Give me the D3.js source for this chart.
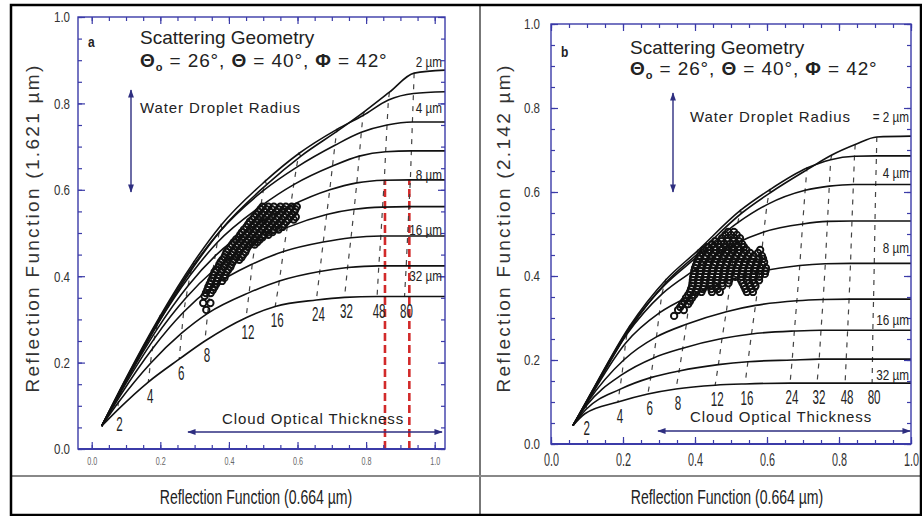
<!DOCTYPE html>
<html>
<head>
<meta charset="utf-8">
<script src="https://cdn.jsdelivr.net/npm/d3@7"></script>
<style>
  body { margin: 0; background: #fff; }
  svg { display: block; font-family: 'Liberation Sans', Arial, sans-serif; }
</style>
</head>
<body>
<svg id="figure" width="922" height="516"></svg>
<script>
var tauValues = [2, 4, 6, 8, 12, 16, 24, 32, 48, 80];
var radii = [2, 3, 4, 6, 8, 12, 16, 24, 32];
var labelledRadii = [2, 4, 8, 16, 32];
var axisTicks = [0, 0.2, 0.4, 0.6, 0.8, 1.0];

// panel a : R(0.664 um) against R(1.621 um)
var originA = [0.029, 0.053];
var plateauA = [0.877, 0.827, 0.757, 0.690, 0.623, 0.561, 0.493, 0.424, 0.353];
var tauXA = [
  [0.095, 0.200, 0.300, 0.380, 0.510, 0.610, 0.720, 0.795, 0.868, 0.940],
  [0.094, 0.198, 0.297, 0.377, 0.506, 0.604, 0.715, 0.791, 0.865, 0.938],
  [0.092, 0.195, 0.292, 0.372, 0.500, 0.597, 0.709, 0.786, 0.861, 0.935],
  [0.090, 0.191, 0.287, 0.366, 0.493, 0.589, 0.702, 0.780, 0.857, 0.932],
  [0.088, 0.187, 0.281, 0.360, 0.485, 0.580, 0.694, 0.773, 0.853, 0.929],
  [0.085, 0.182, 0.275, 0.353, 0.477, 0.570, 0.685, 0.765, 0.848, 0.925],
  [0.082, 0.177, 0.268, 0.345, 0.468, 0.559, 0.675, 0.756, 0.843, 0.921],
  [0.078, 0.171, 0.262, 0.338, 0.459, 0.547, 0.665, 0.746, 0.837, 0.917],
  [0.075, 0.165, 0.255, 0.330, 0.450, 0.535, 0.655, 0.737, 0.832, 0.912]
];
var tauYA = [
  [0.150, 0.300, 0.425, 0.510, 0.612, 0.678, 0.738, 0.781, 0.826, 0.870],
  [0.155, 0.306, 0.432, 0.518, 0.620, 0.684, 0.740, 0.772, 0.808, 0.823],
  [0.150, 0.298, 0.420, 0.502, 0.598, 0.652, 0.703, 0.733, 0.750, 0.757],
  [0.145, 0.288, 0.402, 0.478, 0.562, 0.612, 0.655, 0.678, 0.688, 0.690],
  [0.140, 0.273, 0.378, 0.447, 0.522, 0.563, 0.600, 0.616, 0.622, 0.623],
  [0.132, 0.255, 0.350, 0.412, 0.478, 0.513, 0.543, 0.555, 0.560, 0.561],
  [0.122, 0.232, 0.317, 0.372, 0.428, 0.457, 0.479, 0.489, 0.493, 0.493],
  [0.108, 0.198, 0.268, 0.314, 0.362, 0.389, 0.411, 0.420, 0.424, 0.424],
  [0.090, 0.155, 0.208, 0.250, 0.304, 0.330, 0.345, 0.351, 0.353, 0.353]
];
var cloudA = [
  [0.561, [0.498, 0.515, 0.531, 0.550, 0.566, 0.583, 0.598]],
  [0.555, [0.492, 0.509, 0.525, 0.544, 0.560, 0.578, 0.594]],
  [0.549, [0.486, 0.503, 0.520, 0.538, 0.554, 0.573, 0.591]],
  [0.543, [0.480, 0.497, 0.514, 0.531, 0.549, 0.566, 0.585]],
  [0.537, [0.474, 0.490, 0.509, 0.525, 0.544, 0.560, 0.579, 0.595]],
  [0.531, [0.468, 0.485, 0.503, 0.520, 0.538, 0.555, 0.573, 0.589]],
  [0.526, [0.461, 0.480, 0.496, 0.515, 0.531, 0.550, 0.567]],
  [0.520, [0.456, 0.473, 0.491, 0.508, 0.526, 0.543, 0.561]],
  [0.514, [0.451, 0.466, 0.486, 0.501, 0.521, 0.536, 0.556]],
  [0.508, [0.444, 0.462, 0.479, 0.497, 0.514, 0.531, 0.545]],
  [0.502, [0.438, 0.457, 0.472, 0.492, 0.507, 0.527]],
  [0.496, [0.433, 0.450, 0.467, 0.485, 0.502, 0.515]],
  [0.490, [0.428, 0.443, 0.463, 0.478, 0.498]],
  [0.485, [0.421, 0.438, 0.456, 0.473, 0.490]],
  [0.479, [0.414, 0.433, 0.449, 0.468, 0.483]],
  [0.473, [0.409, 0.426, 0.444, 0.461, 0.475]],
  [0.468, [0.404, 0.420, 0.439, 0.455]],
  [0.462, [0.398, 0.416, 0.433, 0.451]],
  [0.456, [0.393, 0.413, 0.428, 0.448]],
  [0.450, [0.390, 0.407, 0.425, 0.442]],
  [0.444, [0.387, 0.402, 0.422, 0.437]],
  [0.438, [0.381, 0.398, 0.416, 0.430]],
  [0.433, [0.376, 0.395, 0.411]],
  [0.427, [0.372, 0.390, 0.407]],
  [0.421, [0.369, 0.385, 0.404]],
  [0.415, [0.363, 0.381, 0.398]],
  [0.410, [0.358, 0.378, 0.393]],
  [0.403, [0.355, 0.372, 0.390]],
  [0.396, [0.352, 0.367, 0.387]],
  [0.389, [0.348, 0.365, 0.380]],
  [0.382, [0.344, 0.363]],
  [0.375, [0.340, 0.358]],
  [0.368, [0.337, 0.353]],
  [0.361, [0.333, 0.347]],
  [0.354, [0.329]],
  [0.338, [0.325, 0.346]],
  [0.322, [0.334]]
];
var cutLinesA = [0.855, 0.926];

// panel b : R(0.664 um) against R(2.142 um)
var originB = [0.061, 0.044];
var plateauB = [0.733, 0.686, 0.618, 0.531, 0.430, 0.345, 0.271, 0.202, 0.145];
var tauXB = [
  [0.110, 0.220, 0.320, 0.410, 0.530, 0.612, 0.715, 0.780, 0.845, 0.905],
  [0.109, 0.218, 0.318, 0.407, 0.526, 0.607, 0.711, 0.777, 0.843, 0.904],
  [0.108, 0.215, 0.314, 0.402, 0.519, 0.600, 0.706, 0.773, 0.840, 0.902],
  [0.106, 0.211, 0.308, 0.395, 0.510, 0.591, 0.699, 0.768, 0.836, 0.900],
  [0.104, 0.207, 0.301, 0.386, 0.499, 0.580, 0.691, 0.762, 0.832, 0.898],
  [0.102, 0.202, 0.293, 0.376, 0.487, 0.568, 0.683, 0.756, 0.828, 0.896],
  [0.099, 0.197, 0.285, 0.366, 0.475, 0.557, 0.676, 0.750, 0.824, 0.894],
  [0.097, 0.191, 0.277, 0.356, 0.465, 0.547, 0.670, 0.745, 0.820, 0.893],
  [0.094, 0.186, 0.269, 0.347, 0.456, 0.539, 0.664, 0.739, 0.817, 0.892]
];
var tauYB = [
  [0.115, 0.275, 0.385, 0.455, 0.550, 0.600, 0.655, 0.688, 0.713, 0.731],
  [0.118, 0.280, 0.390, 0.460, 0.556, 0.605, 0.657, 0.677, 0.685, 0.686],
  [0.116, 0.273, 0.377, 0.443, 0.527, 0.570, 0.604, 0.614, 0.618, 0.618],
  [0.112, 0.262, 0.357, 0.412, 0.476, 0.505, 0.524, 0.530, 0.531, 0.531],
  [0.105, 0.240, 0.312, 0.352, 0.391, 0.410, 0.425, 0.429, 0.430, 0.430],
  [0.100, 0.200, 0.255, 0.285, 0.315, 0.330, 0.341, 0.344, 0.345, 0.345],
  [0.092, 0.165, 0.205, 0.228, 0.251, 0.262, 0.269, 0.271, 0.271, 0.271],
  [0.082, 0.130, 0.158, 0.174, 0.189, 0.196, 0.200, 0.202, 0.202, 0.202],
  [0.072, 0.100, 0.119, 0.131, 0.140, 0.143, 0.145, 0.145, 0.145, 0.145]
];
var cloudB = [
  [0.505, [0.492, 0.508]],
  [0.498, [0.484, 0.500, 0.516]],
  [0.490, [0.475, 0.491, 0.509, 0.525]],
  [0.483, [0.456, 0.473, 0.490, 0.506, 0.522]],
  [0.476, [0.447, 0.465, 0.480, 0.498, 0.513, 0.531]],
  [0.469, [0.436, 0.454, 0.470, 0.487, 0.503, 0.520, 0.536]],
  [0.462, [0.425, 0.443, 0.457, 0.476, 0.491, 0.509, 0.524, 0.543, 0.581]],
  [0.455, [0.420, 0.437, 0.453, 0.470, 0.487, 0.503, 0.520, 0.536, 0.553, 0.575]],
  [0.448, [0.414, 0.430, 0.448, 0.463, 0.482, 0.496, 0.515, 0.530, 0.548, 0.563, 0.586]],
  [0.441, [0.410, 0.427, 0.443, 0.460, 0.477, 0.493, 0.510, 0.527, 0.543, 0.560, 0.578, 0.589]],
  [0.433, [0.406, 0.423, 0.438, 0.457, 0.471, 0.490, 0.505, 0.523, 0.538, 0.557, 0.571, 0.592]],
  [0.426, [0.403, 0.420, 0.436, 0.453, 0.470, 0.486, 0.503, 0.520, 0.536, 0.553, 0.569, 0.587]],
  [0.419, [0.400, 0.416, 0.434, 0.449, 0.468, 0.482, 0.501, 0.516, 0.534, 0.549, 0.568, 0.582, 0.597]],
  [0.412, [0.398, 0.415, 0.432, 0.449, 0.465, 0.482, 0.499, 0.515, 0.532, 0.549, 0.565, 0.582, 0.596]],
  [0.405, [0.397, 0.415, 0.430, 0.448, 0.463, 0.482, 0.496, 0.515, 0.530, 0.548, 0.563, 0.581, 0.594]],
  [0.398, [0.395, 0.412, 0.429, 0.446, 0.462, 0.479, 0.496, 0.512, 0.529, 0.546, 0.562, 0.579]],
  [0.390, [0.394, 0.410, 0.429, 0.443, 0.462, 0.477, 0.495, 0.528, 0.545, 0.560, 0.578]],
  [0.383, [0.393, 0.410, 0.426, 0.443, 0.460, 0.476, 0.493, 0.532, 0.550, 0.565]],
  [0.376, [0.392, 0.409, 0.424, 0.443, 0.457, 0.476, 0.536, 0.554, 0.568]],
  [0.369, [0.389, 0.406, 0.422, 0.445, 0.463, 0.540, 0.557]],
  [0.362, [0.386, 0.404, 0.418, 0.447, 0.469, 0.544, 0.561]],
  [0.355, [0.381, 0.398]],
  [0.348, [0.375, 0.392]],
  [0.340, [0.370, 0.386]],
  [0.333, [0.364, 0.381]],
  [0.326, [0.359]],
  [0.319, [0.353, 0.369]],
  [0.305, [0.342]]
];

var Figure = (function () {
  var FRAME_BLUE = '#3b3ba8',
      ARROW_BLUE = '#2e2e80';

  var panels = [
    {
      id: 'a', left: 78, right: 445, top: 17, bottom: 449, xDomain: [-0.04, 1.03],
      origin: originA, plateau: plateauA, tauX: tauXA, tauY: tauYA, cloud: cloudA, cuts: cutLinesA,
      yTitle: 'Reflection Function (1.621 \u00b5m)', yTitleX: 32, yTitleY: 228,
      xTitleX: 256, xTickSize: 10, xTickScale: 0.72, xTickFill: '#666', xTickPad: 9,
      yTickPad: 8, radiusX: 442, radiusLift: [3, 9, 0, 1, 16], radiusPrefix: '',
      letter: [88, 47], geometry: [140, 44, 67], water: [140, 113], arrowX: 131, arrowY: [90, 192],
      cloudText: [222, 424], cloudArrow: [188, 442, 432]
    },
    {
      id: 'b', left: 551, right: 911, top: 24, bottom: 444, xDomain: [0, 1],
      origin: originB, plateau: plateauB, tauX: tauXB, tauY: tauYB, cloud: cloudB, cuts: [],
      yTitle: 'Reflection Function (2.142 \u00b5m)', yTitleX: 503, yTitleY: 228,
      xTitleX: 727, xTickSize: 19, xTickScale: 0.57, xTickFill: '#333', xTickPad: 9,
      yTickPad: 11, radiusX: 909, radiusLift: [14, 6, 10, 5, 3], radiusPrefix: '= ',
      letter: [561, 57], geometry: [630, 54, 75], water: [690, 122], arrowX: 673, arrowY: [93, 192],
      cloudText: [690, 422], cloudArrow: [658, 910, 431]
    }
  ];

  function draw(svg) {
    _defineMarkers(svg);
    panels.forEach(function (panel) {
      _drawPanel(svg, panel);
    });
    _drawBorders(svg);
  }

  function _defineMarkers(svg) {
    svg.append('defs')
       .append('marker')
       .attr('id', 'arrow-head')
       .attr('viewBox', '0 0 10 10')
       .attr('refX', 9)
       .attr('refY', 5)
       .attr('markerWidth', 6)
       .attr('markerHeight', 6)
       .attr('orient', 'auto-start-reverse')
       .append('path')
       .attr('d', 'M0,1.5 L10,5 L0,8.5 Z')
       .attr('fill', ARROW_BLUE);
  }

  function _drawBorders(svg) {
    svg.append('line')
       .attr('x1', 480).attr('x2', 480).attr('y1', 5).attr('y2', 515)
       .attr('stroke', '#777').attr('stroke-width', 2);
    svg.append('line')
       .attr('x1', 11).attr('x2', 921).attr('y1', 476).attr('y2', 476)
       .attr('stroke', '#888').attr('stroke-width', 2);
    svg.append('rect')
       .attr('x', 11).attr('y', 5).attr('width', 910).attr('height', 510)
       .attr('fill', 'none').attr('stroke', '#000').attr('stroke-width', 2.5);
  }

  function _text(g, x, y, str, opts) {
    opts = opts || {};
    return g.append('text')
            .attr('transform', 'translate(' + x + ',' + y + ') scale(' + (opts.sx || 1) + ',1)')
            .attr('text-anchor', opts.anchor || 'start')
            .attr('font-size', opts.size || 14)
            .attr('font-weight', opts.weight || 'normal')
            .attr('letter-spacing', opts.spacing || 0)
            .attr('fill', opts.fill || '#222')
            .text(str);
  }

  function _drawPanel(svg, p) {
    var x = d3.scaleLinear().domain(p.xDomain).range([p.left, p.right]),
        y = d3.scaleLinear().domain([0, 1]).range([p.bottom, p.top]),
        g = svg.append('g').attr('id', 'panel-' + p.id);

    g.append('clipPath')
     .attr('id', 'clip-' + p.id)
     .append('rect')
     .attr('x', p.left).attr('y', p.top)
     .attr('width', p.right - p.left).attr('height', p.bottom - p.top);

    var plot = g.append('g').attr('clip-path', 'url(#clip-' + p.id + ')');

    _drawCuts(plot, p, x, y);
    _drawGrid(plot, p, x, y);
    _drawCloud(plot, p, x, y);
    _drawFrame(g, p, x, y);
    _drawAnnotations(g, p, x, y);
  }

  function _drawGrid(plot, p, x, y) {
    var smooth = d3.line()
                   .x(function (d) { return x(d[0]); })
                   .y(function (d) { return y(d[1]); })
                   .curve(d3.curveMonotoneX),
        straight = d3.line()
                     .x(function (d) { return x(d[0]); })
                     .y(function (d) { return y(d[1]); });

    tauValues.forEach(function (tau, j) {
      var pts = radii.map(function (r, i) { return [p.tauX[i][j], p.tauY[i][j]]; });
      plot.append('path')
          .attr('d', straight(pts))
          .attr('fill', 'none')
          .attr('stroke', '#444')
          .attr('stroke-width', 1.2)
          .attr('stroke-dasharray', '5,6');
    });

    radii.forEach(function (r, i) {
      var pts = [p.origin]
        .concat(p.tauX[i].map(function (v, j) { return [v, p.tauY[i][j]]; }))
        .concat([[p.xDomain[1], p.plateau[i]]]);
      plot.append('path')
          .attr('class', 'radius-curve')
          .attr('d', smooth(pts))
          .attr('fill', 'none')
          .attr('stroke', '#111')
          .attr('stroke-width', 1.6);
    });
  }

  function _drawCuts(plot, p, x, y) {
    plot.selectAll('line.cut')
        .data(p.cuts)
        .enter()
        .append('line')
        .attr('class', 'cut')
        .attr('x1', function (d) { return x(d); })
        .attr('x2', function (d) { return x(d); })
        .attr('y1', y(0))
        .attr('y2', y(p.plateau[4]))
        .attr('stroke', '#d22a2a')
        .attr('stroke-width', 2.6)
        .attr('stroke-dasharray', '8,4');
  }

  function _drawCloud(plot, p, x, y) {
    var points = [];
    p.cloud.forEach(function (row) {
      row[1].forEach(function (v) { points.push([v, row[0]]); });
    });

    plot.selectAll('circle.obs')
        .data(points)
        .enter()
        .append('circle')
        .attr('class', 'obs')
        .attr('cx', function (d) { return x(d[0]); })
        .attr('cy', function (d) { return y(d[1]); })
        .attr('r', 3.2)
        .attr('fill', 'none')
        .attr('stroke', '#111')
        .attr('stroke-width', 1.9);
  }

  function _drawFrame(g, p, x, y) {
    var minor = d3.range(0, 21).map(function (i) { return i / 20; });

    function tickStyle(sel) {
      sel.select('.domain').remove();
      sel.selectAll('line').attr('stroke', FRAME_BLUE).attr('stroke-width', 1.2);
    }

    [[minor, 4], [axisTicks, 7]].forEach(function (set) {
      g.append('g').attr('transform', 'translate(0,' + p.bottom + ')')
       .call(d3.axisTop(x).tickValues(set[0]).tickSize(set[1]).tickFormat(''))
       .call(tickStyle);
      g.append('g').attr('transform', 'translate(0,' + p.top + ')')
       .call(d3.axisBottom(x).tickValues(set[0]).tickSize(set[1]).tickFormat(''))
       .call(tickStyle);
      g.append('g').attr('transform', 'translate(' + p.left + ',0)')
       .call(d3.axisRight(y).tickValues(set[0]).tickSize(set[1]).tickFormat(''))
       .call(tickStyle);
      g.append('g').attr('transform', 'translate(' + p.right + ',0)')
       .call(d3.axisLeft(y).tickValues(set[0]).tickSize(set[1]).tickFormat(''))
       .call(tickStyle);
    });

    g.append('rect')
     .attr('x', p.left).attr('y', p.top)
     .attr('width', p.right - p.left).attr('height', p.bottom - p.top)
     .attr('fill', 'none')
     .attr('stroke', FRAME_BLUE)
     .attr('stroke-width', 1.4);
    g.append('line')
     .attr('x1', p.left).attr('x2', p.right).attr('y1', p.bottom).attr('y2', p.bottom)
     .attr('stroke', FRAME_BLUE).attr('stroke-width', 2.2);

    var xLabels = g.append('g')
                   .attr('transform', 'translate(0,' + p.bottom + ')')
                   .call(d3.axisBottom(x).tickValues(axisTicks).tickSize(0)
                           .tickPadding(p.xTickPad).tickFormat(d3.format('.1f')));
    xLabels.select('.domain').remove();
    xLabels.selectAll('text')
           .attr('font-family', "'Liberation Sans', Arial, sans-serif")
           .attr('font-size', p.xTickSize)
           .attr('fill', p.xTickFill)
           .attr('transform', 'scale(' + p.xTickScale + ',1)');

    var yLabels = g.append('g')
                   .attr('transform', 'translate(' + p.left + ',0)')
                   .call(d3.axisLeft(y).tickValues(axisTicks).tickSize(0).tickFormat(d3.format('.1f')));
    yLabels.select('.domain').remove();
    yLabels.selectAll('text')
           .attr('font-family', "'Liberation Sans', Arial, sans-serif")
           .attr('font-size', 15)
           .attr('fill', '#333')
           .attr('x', -p.yTickPad / 0.77)
           .attr('transform', 'scale(0.77,1)');

    g.append('text')
     .attr('transform', 'translate(' + p.yTitleX + ',' + p.yTitleY + ') rotate(-90)')
     .attr('text-anchor', 'middle')
     .attr('dy', '0.35em')
     .attr('font-size', 19)
     .attr('letter-spacing', 2.3)
     .attr('fill', '#333')
     .text(p.yTitle);

    _text(g, p.xTitleX, 504, 'Reflection Function (0.664 \u00b5m)',
          { size: 21, sx: 0.67, anchor: 'middle', fill: '#222' });
  }

  function _drawAnnotations(g, p, x, y) {
    var last = radii.length - 1;

    tauValues.forEach(function (tau, j) {
      _text(g, x(p.tauX[last][j]) + 2, y(p.tauY[last][j]) + 21, String(tau),
            { size: 20, sx: 0.58, anchor: 'middle', fill: '#222' });
    });

    labelledRadii.forEach(function (r, k) {
      var i = radii.indexOf(r);
      _text(g, p.radiusX, y(p.plateau[i]) - p.radiusLift[k], (k === 0 ? p.radiusPrefix : '') + r + ' \u00b5m',
            { size: 15, sx: 0.78, anchor: 'end', fill: '#222' });
    });

    _text(g, p.letter[0], p.letter[1], p.id, { size: 15, sx: 0.8, weight: 'bold' });
    _text(g, p.geometry[0], p.geometry[1], 'Scattering Geometry', { size: 19 });

    var geo = g.append('text')
               .attr('x', p.geometry[0])
               .attr('y', p.geometry[2])
               .attr('font-size', 19)
               .attr('letter-spacing', 0.9)
               .attr('fill', '#222');
    geo.append('tspan').attr('font-weight', 'bold').text('\u0398');
    geo.append('tspan').attr('font-weight', 'bold').attr('font-size', 11).attr('dy', 4).text('o');
    geo.append('tspan').attr('dy', -4).text(' = 26\u00b0, ');
    geo.append('tspan').attr('font-weight', 'bold').text('\u0398');
    geo.append('tspan').text(' = 40\u00b0, ');
    geo.append('tspan').attr('font-weight', 'bold').text('\u03a6');
    geo.append('tspan').text(' = 42\u00b0');

    _text(g, p.water[0], p.water[1], 'Water Droplet Radius', { size: 15, spacing: 0.9 });
    g.append('line')
     .attr('x1', p.arrowX).attr('x2', p.arrowX)
     .attr('y1', p.arrowY[0]).attr('y2', p.arrowY[1])
     .attr('stroke', ARROW_BLUE).attr('stroke-width', 1.4)
     .attr('marker-start', 'url(#arrow-head)')
     .attr('marker-end', 'url(#arrow-head)');

    _text(g, p.cloudText[0], p.cloudText[1], 'Cloud Optical Thickness', { size: 15, spacing: 0.9 });
    g.append('line')
     .attr('x1', p.cloudArrow[0]).attr('x2', p.cloudArrow[1])
     .attr('y1', p.cloudArrow[2]).attr('y2', p.cloudArrow[2])
     .attr('stroke', ARROW_BLUE).attr('stroke-width', 1.4)
     .attr('marker-start', 'url(#arrow-head)')
     .attr('marker-end', 'url(#arrow-head)');
  }

  return {
    draw: draw
  };
})();

Figure.draw(d3.select('#figure'));
</script>
</body>
</html>
